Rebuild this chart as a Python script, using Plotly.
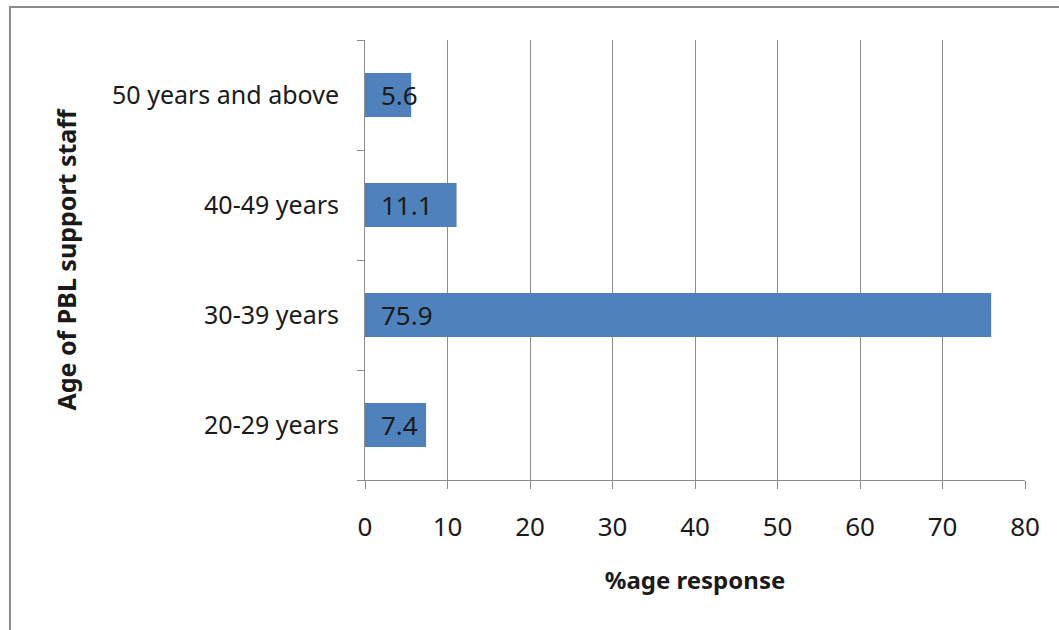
import plotly.graph_objects as go

# Age groups of PBL support staff and share of responses (%)
age_groups = ["20-29 years", "30-39 years", "40-49 years", "50 years and above"]
response_pct = [7.4, 75.9, 11.1, 5.6]
x_ticks = [0, 10, 20, 30, 40, 50, 60, 70, 80]

FONT = "Noto Sans"
GRID = "#8c8c8c"
TEXT = "#1a1a1a"

fig = go.Figure()
fig.add_trace(go.Bar(
    x=response_pct,
    y=age_groups,
    orientation="h",
    width=0.4,
    marker=dict(color="#4f81bd", line=dict(width=0)),
    hoverinfo="x+y",
))

# Value labels placed just inside the base of each bar
for g, v in zip(age_groups, response_pct):
    fig.add_annotation(
        x=0, y=g, xref="x", yref="y",
        text=f"{v}", showarrow=False,
        xanchor="left", yanchor="middle", xshift=14,
        font=dict(family=FONT, size=26, color=TEXT),
    )

# Outer frame of the chart area
fig.add_shape(
    type="rect", xref="paper", yref="paper",
    x0=-0.5379, x1=1.2, y0=-0.5, y1=1.075,
    line=dict(color="#8a8a8a", width=2), fillcolor="rgba(0,0,0,0)",
    layer="below",
)

fig.update_layout(
    width=1059, height=630,
    margin=dict(l=365, r=34, t=40, b=150),
    paper_bgcolor="white", plot_bgcolor="white",
    showlegend=False,
    bargap=0.6,
    font=dict(family=FONT, size=24, color=TEXT),
    xaxis=dict(
        range=[0, 80], tickvals=x_ticks, ticktext=[str(t) for t in x_ticks],
        showgrid=True, gridcolor=GRID, gridwidth=1,
        showline=True, linecolor=GRID, linewidth=1,
        ticks="outside", ticklen=8, tickcolor=GRID,
        zeroline=False,
        ticklabelstandoff=16,
        tickfont=dict(family=FONT, size=26, color=TEXT),
        title=dict(text="<b>%age response</b>", standoff=28,
                   font=dict(family=FONT, size=24, color=TEXT)),
    ),
    yaxis=dict(
        type="category", categoryorder="array", categoryarray=age_groups,
        showgrid=False,
        showline=True, linecolor=GRID, linewidth=1,
        ticks="outside", ticklen=7, tickcolor=GRID,
        tickson="boundaries",
        ticklabelstandoff=20,
        tickfont=dict(family=FONT, size=25, color=TEXT),
        title=dict(text="<b>Age of PBL support staff</b>", standoff=28,
                   font=dict(family=FONT, size=25, color=TEXT)),
    ),
)

fig.write_html("out.html")
